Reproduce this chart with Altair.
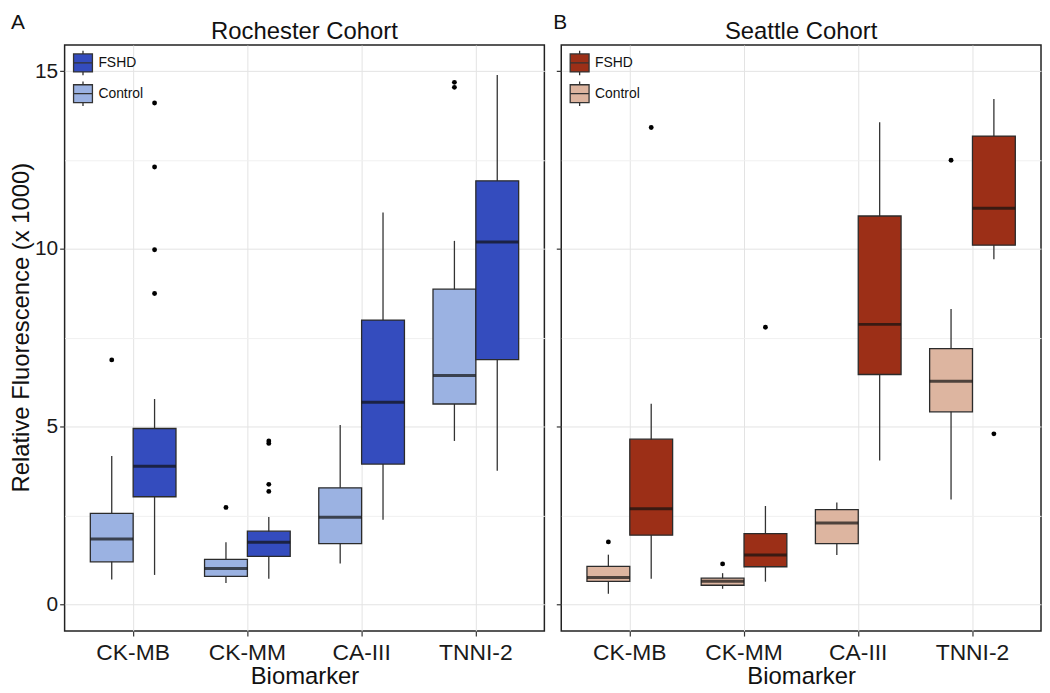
import altair as alt
import pandas as pd

biomarkers = ["CK-MB", "CK-MM", "CA-III", "TNNI-2"]
groups = ["Control", "FSHD"]
legend_order = ["FSHD", "Control"]

# Rochester cohort (A) box statistics, relative fluorescence x 1000
roc_ctrl_lo = [0.70, 0.60, 1.15, 4.60]
roc_ctrl_q1 = [1.20, 0.79, 1.71, 5.64]
roc_ctrl_med = [1.84, 1.01, 2.45, 6.44]
roc_ctrl_q3 = [2.56, 1.27, 3.28, 8.87]
roc_ctrl_hi = [4.18, 1.75, 5.05, 10.23]
roc_fshd_lo = [0.83, 0.72, 2.38, 3.76]
roc_fshd_q1 = [3.03, 1.35, 3.95, 6.89]
roc_fshd_med = [3.89, 1.75, 5.69, 10.20]
roc_fshd_q3 = [4.95, 2.06, 8.00, 11.92]
roc_fshd_hi = [5.78, 2.46, 11.03, 14.90]
roc_out_marker = ["CK-MB", "CK-MM", "TNNI-2", "TNNI-2",
                  "CK-MB", "CK-MB", "CK-MB", "CK-MB", "CK-MM", "CK-MM", "CK-MM", "CK-MM"]
roc_out_group = ["Control"] * 4 + ["FSHD"] * 8
roc_out_value = [6.88, 2.73, 14.69, 14.55, 14.11, 12.31, 9.98, 8.75, 4.60, 4.53, 3.38, 3.18]

# Seattle cohort (B)
sea_ctrl_lo = [0.30, 0.44, 1.39, 2.95]
sea_ctrl_q1 = [0.65, 0.54, 1.71, 5.42]
sea_ctrl_med = [0.76, 0.65, 2.29, 6.28]
sea_ctrl_q3 = [1.07, 0.74, 2.67, 7.20]
sea_ctrl_hi = [1.40, 0.88, 2.87, 8.31]
sea_fshd_lo = [0.72, 0.64, 4.05, 9.71]
sea_fshd_q1 = [1.95, 1.06, 6.47, 10.11]
sea_fshd_med = [2.69, 1.39, 7.88, 11.15]
sea_fshd_q3 = [4.65, 1.99, 10.93, 13.18]
sea_fshd_hi = [5.65, 2.77, 13.57, 14.22]
sea_out_marker = ["CK-MB", "CK-MM", "TNNI-2", "CK-MB", "CK-MM", "TNNI-2"]
sea_out_group = ["Control"] * 3 + ["FSHD"] * 3
sea_out_value = [1.76, 1.14, 12.50, 13.42, 7.80, 4.80]

y_ticks = [0, 2.5, 5, 7.5, 10, 12.5, 15]
y_domain = [-0.75, 15.74]

FONT = "Liberation Sans"
BOX_PATH = "M-1,-0.95H1V0.95H-1Z M-1,0H1 M0,-0.95V-1.3 M0,0.95V1.3"
W, H = 483, 590


def stats_frame(c_lo, c_q1, c_med, c_q3, c_hi, f_lo, f_q1, f_med, f_q3, f_hi):
    rows = []
    for g, arrs in (("Control", (c_lo, c_q1, c_med, c_q3, c_hi)),
                    ("FSHD", (f_lo, f_q1, f_med, f_q3, f_hi))):
        for i, b in enumerate(biomarkers):
            rows.append({"Biomarker": b, "Group": g, "lo": arrs[0][i], "q1": arrs[1][i],
                         "med": arrs[2][i], "q3": arrs[3][i], "hi": arrs[4][i]})
    return pd.DataFrame(rows)


def panel(stats, outs, title, letter, letter_x, colors, left):
    major = "datum.value % 5 === 0"
    axis_kw = dict(
        values=y_ticks,
        labels=left,
        tickOpacity={"condition": {"test": major, "value": 1}, "value": 0},
        gridColor={"condition": {"test": major, "value": "#E3E3E3"}, "value": "#F0F0F0"},
        domain=False, tickSize=5, tickColor="#333333", tickWidth=1.2,
        labelFontSize=21, labelColor="#1a1a1a", labelPadding=2,
        title="Relative Fluorescence (x 1000)" if left else None,
        titleFontSize=24, titleFontWeight="normal", titleColor="#111111", titlePadding=1,
    )
    if left:
        axis_kw["labelExpr"] = f"{major} ? datum.label : ''"
        axis_kw["titleY"] = 284
    yaxis = alt.Axis(**axis_kw)
    yscale = alt.Scale(domain=y_domain, nice=False, zero=False)
    xaxis = alt.Axis(title="Biomarker", labelAngle=0, domain=False,
                     tickSize=5, tickColor="#333333", tickWidth=1.2,
                     gridColor="#E3E3E3", grid=True,
                     labelFontSize=23, labelColor="#1a1a1a", labelPadding=6,
                     titleFontSize=24, titleFontWeight="normal",
                     titleColor="#111111", titlePadding=0)
    x = alt.X("Biomarker:N", sort=biomarkers,
              scale=alt.Scale(paddingInner=0.25, paddingOuter=0.225), axis=xaxis)
    xo = alt.XOffset("Group:N", sort=groups, scale=alt.Scale(paddingInner=0, paddingOuter=0))

    base = alt.Chart(stats).encode(x=x, xOffset=xo)
    whisk = base.mark_rule(color="#333333", strokeWidth=1.3).encode(
        y=alt.Y("lo:Q", scale=yscale, axis=yaxis), y2="hi:Q")
    box = base.mark_bar(stroke="#2b2b2b", strokeWidth=1.3).encode(
        y=alt.Y("q1:Q", scale=yscale, axis=yaxis), y2="q3:Q",
        fill=alt.Fill("Group:N", scale=alt.Scale(domain=legend_order, range=colors),
                      legend=alt.Legend(orient="none", legendX=8, legendY=7.5, title=None,
                                        symbolType=BOX_PATH, symbolSize=361,
                                        symbolStrokeColor="#333333", symbolStrokeWidth=1.3,
                                        symbolOpacity=1,
                                        labelFontSize=14, labelFont=FONT, labelColor="#111111",
                                        labelOffset=5, rowPadding=0, padding=0)))
    med = base.mark_tick(color="#111111", thickness=3, size=43).encode(
        y=alt.Y("med:Q", scale=yscale, axis=yaxis))
    pts = alt.Chart(outs).mark_circle(size=24, color="black", opacity=1).encode(
        x=x, xOffset=xo, y=alt.Y("value:Q", scale=yscale, axis=yaxis))
    lab = alt.Chart(pd.DataFrame({"label": [letter]})).mark_text(
        fontSize=21, font=FONT, align="center", baseline="alphabetic", color="#111111").encode(
        x=alt.value(letter_x), y=alt.value(-16.5), text="label:N")
    ttl = alt.Chart(pd.DataFrame({"label": [title]})).mark_text(
        fontSize=24, font=FONT, align="center", baseline="alphabetic", color="#111111").encode(
        x=alt.value(W / 2), y=alt.value(-5.7), text="label:N")
    return alt.layer(whisk, box, med, pts, lab, ttl).properties(width=W, height=H)


roc = stats_frame(roc_ctrl_lo, roc_ctrl_q1, roc_ctrl_med, roc_ctrl_q3, roc_ctrl_hi,
                  roc_fshd_lo, roc_fshd_q1, roc_fshd_med, roc_fshd_q3, roc_fshd_hi)
sea = stats_frame(sea_ctrl_lo, sea_ctrl_q1, sea_ctrl_med, sea_ctrl_q3, sea_ctrl_hi,
                  sea_fshd_lo, sea_fshd_q1, sea_fshd_med, sea_fshd_q3, sea_fshd_hi)
roc_out = pd.DataFrame({"Biomarker": roc_out_marker, "Group": roc_out_group, "value": roc_out_value})
sea_out = pd.DataFrame({"Biomarker": sea_out_marker, "Group": sea_out_group, "value": sea_out_value})

a = panel(roc, roc_out, "Rochester Cohort", "A", -47, ["#344CBE", "#9BB2E2"], True)
b = panel(sea, sea_out, "Seattle Cohort", "B", -1, ["#9C2F17", "#DDB5A0"], False)

chart = alt.HConcatChart(hconcat=[a, b], spacing=17, bounds="flush").resolve_scale(
    fill="independent").resolve_legend(fill="independent").properties(
    padding={"left": 0, "top": 0, "right": 0, "bottom": -4}
).configure(font=FONT).configure_view(stroke="#222222", strokeWidth=1.5)

chart.save("out.html", embed_options={"renderer": "svg", "actions": False})
